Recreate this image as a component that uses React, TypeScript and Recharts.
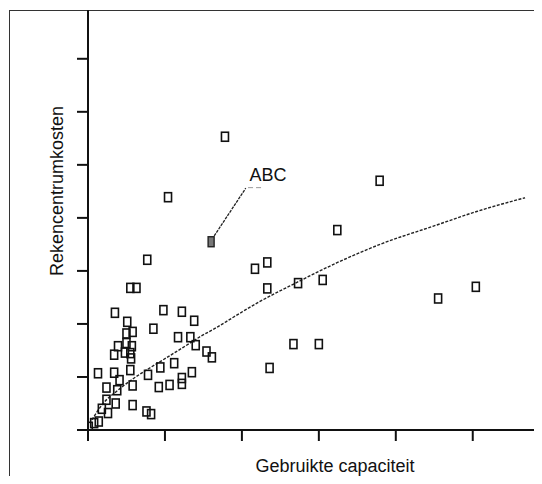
import {
  ScatterChart,
  Scatter,
  XAxis,
  YAxis,
  ReferenceLine,
  ReferenceDot,
} from "recharts";

const X_TICKS = [0, 1, 2, 3, 4, 5];
const Y_TICKS = [0, 1, 2, 3, 4, 5, 6, 7];

// gebruikte capaciteit / rekencentrumkosten per centrum
const capaciteit = [
  1.78, 3.79, 1.04, 3.24, 0.77, 2.17, 2.33, 2.33, 2.73, 3.05, 4.55, 5.04, 2.67,
  3.0, 2.36, 0.55, 0.63, 0.35, 0.98, 1.22, 1.38, 0.51, 0.85, 0.5, 0.58, 0.39,
  0.5, 0.57, 0.34, 0.48, 0.55, 0.56, 1.17, 1.33, 1.4, 1.54, 1.61, 1.12, 0.94,
  0.55, 0.78, 0.13, 0.34, 0.41, 0.58, 1.35, 1.22, 1.22, 1.06, 0.92, 0.24, 0.38,
  0.24, 0.36, 0.58, 0.18, 0.26, 0.76, 0.82, 0.14, 0.08, 0.01,
];
const kosten = [
  5.53, 4.7, 4.39, 3.77, 3.21, 3.04, 3.16, 2.67, 2.77, 2.83, 2.48, 2.7, 1.62,
  1.62, 1.17, 2.68, 2.68, 2.21, 2.26, 2.23, 2.06, 2.04, 1.91, 1.82, 1.85, 1.58,
  1.64, 1.58, 1.42, 1.46, 1.45, 1.35, 1.75, 1.75, 1.6, 1.48, 1.37, 1.26, 1.18,
  1.13, 1.04, 1.07, 1.08, 0.94, 0.84, 1.09, 0.98, 0.87, 0.85, 0.81, 0.8, 0.75,
  0.57, 0.5, 0.47, 0.4, 0.32, 0.35, 0.3, 0.16, 0.13, 0.06,
];

const trendX = [
  0.05, 0.19, 0.38, 0.6, 0.78, 0.95, 1.25, 1.47, 1.68, 1.87, 2.23, 2.71, 3.23,
  3.83, 4.48, 5.05, 5.68,
];
const trendY = [
  0.19, 0.49, 0.74, 0.98, 1.15, 1.3, 1.57, 1.77, 1.94, 2.11, 2.42, 2.78, 3.15,
  3.52, 3.84, 4.12, 4.38,
];

const ABC = { x: 1.6, y: 3.55 };
const ABC_LEADER = [
  { x: 1.64, y: 3.66 },
  { x: 2.05, y: 4.56 },
];
const ABC_TAIL = [
  { x: 2.08, y: 4.57 },
  { x: 2.28, y: 4.57 },
];
const ABC_TEXT = { x: 2.34, y: 4.7 };

const FONT = "'Liberation Sans', Arial, sans-serif";

const points = capaciteit.map((x, i) => ({ x, y: kosten[i] }));
const trend = trendX.map((x, i) => ({ x, y: trendY[i] }));

const Box = (props: any) => {
  const { cx, cy } = props;
  return (
    <rect
      x={cx - 3.5}
      y={cy - 4.5}
      width={7}
      height={9}
      fill="none"
      stroke="#111"
      strokeWidth={1.6}
    />
  );
};

const ShadedBox = (props: any) => {
  const { cx, cy } = props;
  return (
    <rect
      x={cx - 3}
      y={cy - 5}
      width={6}
      height={10}
      fill="#777"
      stroke="#222"
      strokeWidth={1.4}
    />
  );
};

const NoDot = () => <g />;

export default function App() {
  return (
    <div
      style={{
        position: "relative",
        width: 542,
        height: 484,
        margin: -8,
        overflow: "hidden",
        background: "#fff",
      }}
    >
      <div
        style={{
          position: "absolute",
          left: 9,
          top: 10,
          right: -10,
          bottom: -10,
          borderLeft: "1.5px solid #333",
          borderTop: "1.5px solid #333",
        }}
      />
      <div style={{ position: "absolute", left: 0, top: 0 }}>
        <ScatterChart
          width={542}
          height={484}
          margin={{ top: 10, right: 0, bottom: 0, left: 0 }}
        >
          <XAxis
            type="number"
            dataKey="x"
            domain={[0, 5.9]}
            ticks={X_TICKS}
            allowDataOverflow
            height={54}
            tickSize={11}
            tickFormatter={() => ""}
            axisLine={{ stroke: "#111", strokeWidth: 2 }}
            tickLine={{ stroke: "#111", strokeWidth: 2 }}
            label={{
              value: "Gebruikte capaciteit",
              content: ({ viewBox }: any) => (
                <text
                  x={viewBox.x + 247}
                  y={viewBox.y + 42}
                  textAnchor="middle"
                  fontFamily={FONT}
                  fontSize={18}
                  fill="#111"
                >
                  Gebruikte capaciteit
                </text>
              ),
            }}
          />
          <YAxis
            type="number"
            dataKey="y"
            domain={[0, 7.92]}
            ticks={Y_TICKS}
            allowDataOverflow
            width={88}
            tickSize={11}
            tickFormatter={() => ""}
            axisLine={{ stroke: "#111", strokeWidth: 2 }}
            tickLine={{ stroke: "#111", strokeWidth: 2 }}
            label={{
              value: "Rekencentrumkosten",
              content: () => (
                <text
                  x={63}
                  y={191}
                  transform="rotate(-90, 63, 191)"
                  textAnchor="middle"
                  fontFamily={FONT}
                  fontSize={18}
                  fill="#111"
                >
                  Rekencentrumkosten
                </text>
              ),
            }}
          />
          <Scatter
            data={trend}
            dataKey="y"
            shape={NoDot}
            line={{ stroke: "#222", strokeWidth: 1.4, strokeDasharray: "3 1.5" }}
            lineJointType="monotoneX"
            isAnimationActive={false}
          />
          <Scatter
            data={points}
            dataKey="y"
            shape={Box}
            isAnimationActive={false}
          />
          <Scatter
            data={[ABC]}
            dataKey="y"
            shape={ShadedBox}
            isAnimationActive={false}
          />
          <ReferenceLine
            segment={ABC_LEADER}
            stroke="#222"
            strokeWidth={1.3}
            strokeDasharray="3 1"
          />
          <ReferenceLine
            segment={ABC_TAIL}
            stroke="#999"
            strokeWidth={1}
            strokeDasharray="5 3"
          />
          <ReferenceDot
            x={ABC_TEXT.x}
            y={ABC_TEXT.y}
            r={0}
            fill="none"
            stroke="none"
            label={{
              value: "ABC",
              content: ({ viewBox }: any) => (
                <text
                  x={viewBox.x + viewBox.width / 2}
                  y={viewBox.y + viewBox.height / 2}
                  textAnchor="middle"
                  fontFamily={FONT}
                  fontSize={18}
                  fill="#111"
                >
                  ABC
                </text>
              ),
            }}
          />
        </ScatterChart>
      </div>
    </div>
  );
}
